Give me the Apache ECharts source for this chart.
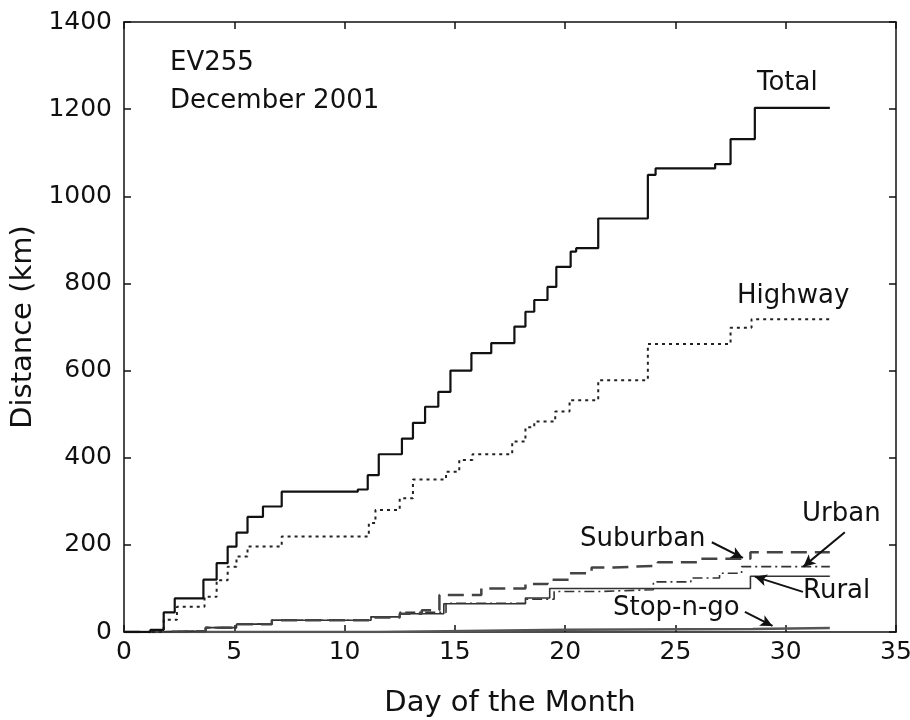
<!DOCTYPE html>
<html><head><meta charset="utf-8">
<script src="https://cdn.jsdelivr.net/npm/echarts@6/dist/echarts.min.js"></script>
<style>html,body{margin:0;padding:0;background:#fff}#c{width:910px;height:720px}</style>
</head><body><div id="c"></div>
<script>
// [day, cumulative km after step]
const totalSteps = [[0,0],[1.2,5],[1.8,45],[2.3,77],[3.6,120],[4.2,158],[4.7,196],[5.1,228],[5.6,264],[6.3,288],[7.15,322],[10.6,327],[11.05,360],[11.55,408],[12.6,444],[13.1,480],[13.65,517],[14.25,551],[14.8,600],[15.75,640],[16.65,663],[17.7,701],[18.2,735],[18.6,762],[19.2,792],[19.6,838],[20.25,873],[20.5,881],[21.5,949],[23.75,1049],[24.1,1064],[26.8,1074],[27.5,1131],[28.6,1203],[32,1203]];
const highwaySteps = [[0,0],[1.8,28],[2.4,58],[3.65,81],[4.2,119],[4.7,150],[5.1,173],[5.6,196],[7.15,219],[11.1,250],[11.4,280],[12.5,307],[13.1,350],[14.6,368],[15.2,395],[15.8,408],[17.6,437],[18.2,470],[18.6,483],[19.55,506],[20.2,532],[21.5,578],[23.75,661],[27.5,698],[28.45,718],[32,718]];
const suburbanSteps = [[0,0],[1.3,2],[3.7,10],[5.1,18],[6.7,27],[11.2,33],[12.5,42],[13.5,50],[14.3,85],[16.2,100],[18.2,110],[19.2,120],[20.2,135],[21.2,148],[22.2,152],[24.2,160],[26.1,168],[28.4,183],[32,183]];
const urbanSteps = [[0,0],[1.3,2],[3.7,10],[5.1,18],[6.7,27],[11.2,35],[12.5,45],[14.6,66],[18.2,75],[19.5,93],[21.6,97],[24,115],[25.7,124],[27,135],[28,150],[32,150]];
const ruralSteps = [[0,0],[1.3,2],[3.7,10],[5.1,18],[6.7,27],[11.2,35],[12.5,42],[14.5,65],[18.2,78],[19.3,100],[28.4,128],[32,128]];
const stopSteps = [[0,0],[11.5,2],[14.6,5],[20,7],[28.5,9],[32,9]];
const xTicks = [0,5,10,15,20,25,30,35];
const yTicks = [0,200,400,600,800,1000,1200,1400];
// annotation arrows: [from, to] in data coordinates
const arrows = [
  [[26.65,206],[28.06,170]],
  [[32.68,229],[30.8,150]],
  [[30.78,92],[28.6,127]],
  [[28.15,46],[29.4,14]]
];

const F = 'DejaVu Sans';
const chart = echarts.init(document.getElementById('c'));
function axisBase(){
  return {
    axisLine:{show:true,onZero:false,lineStyle:{color:'#111',width:1.5}},
    axisTick:{show:true,inside:true,length:7,lineStyle:{color:'#111',width:1.5}},
    splitLine:{show:false}
  };
}
function lineSeries(name,data,color,width,type,z){
  return {name,type:'line',step:'end',data,showSymbol:false,symbol:'none',
    lineStyle:{color,width,type},z:z||2,silent:true,animation:false};
}
const series = [
  lineSeries('Stop-n-go',stopSteps,'#555',2.5,'solid',2),
  lineSeries('Rural',ruralSteps,'#333',1.6,'solid',3),
  lineSeries('Urban',urbanSteps,'#333',1.6,[10,4,2,4],3),
  lineSeries('Suburban',suburbanSteps,'#444',2.5,[16,8],3),
  lineSeries('Highway',highwaySteps,'#222',2,[3,4],4),
  lineSeries('Total',totalSteps,'#111',2.2,'solid',5)
];
series.push({type:'line',data:[],silent:true,animation:false,
  markLine:{silent:true,symbol:['none','arrow'],symbolSize:[9,12],label:{show:false},
    lineStyle:{color:'#111',width:2,type:'solid'},
    data:arrows.map(a=>[{coord:a[0]},{coord:a[1]}])}});

const txt = (text,x,y)=>({type:'text',left:x,top:y,style:{text,font:'26px "'+F+'"',fill:'#111'}});
chart.setOption({
  animation:false,
  backgroundColor:'#fff',
  grid:{left:124,right:14,top:22,bottom:88,containLabel:false,outerBoundsMode:'none'},
  xAxis:[
    Object.assign({type:'value',min:xTicks[0],max:xTicks[xTicks.length-1],interval:5,position:'bottom',
      name:'Day of the Month',nameLocation:'middle',nameGap:57,
      nameTextStyle:{fontFamily:F,fontSize:29,color:'#111'},
      axisLabel:{fontFamily:F,fontSize:25,color:'#111',margin:8}},axisBase()),
    Object.assign({type:'value',min:0,max:35,interval:5,position:'top',axisLabel:{show:false}},axisBase())
  ],
  yAxis:[
    Object.assign({type:'value',min:yTicks[0],max:yTicks[yTicks.length-1],interval:200,position:'left',
      name:'Distance (km)',nameLocation:'middle',nameGap:74,
      nameTextStyle:{fontFamily:F,fontSize:29,color:'#111',padding:[0,0,0,0]},
      axisLabel:{fontFamily:F,fontSize:25,color:'#111',margin:12,formatter:v=>String(v)}},axisBase()),
    Object.assign({type:'value',min:0,max:1400,interval:200,position:'right',axisLabel:{show:false}},axisBase())
  ],
  series,
  graphic:[
    txt('EV255',170,50),
    txt('December 2001',170,88),
    txt('Total',757,70),
    txt('Highway',737,283),
    txt('Urban',802,501),
    txt('Suburban',580,526),
    txt('Rural',803,578),
    txt('Stop-n-go',613,595)
  ]
});
</script></body></html>
